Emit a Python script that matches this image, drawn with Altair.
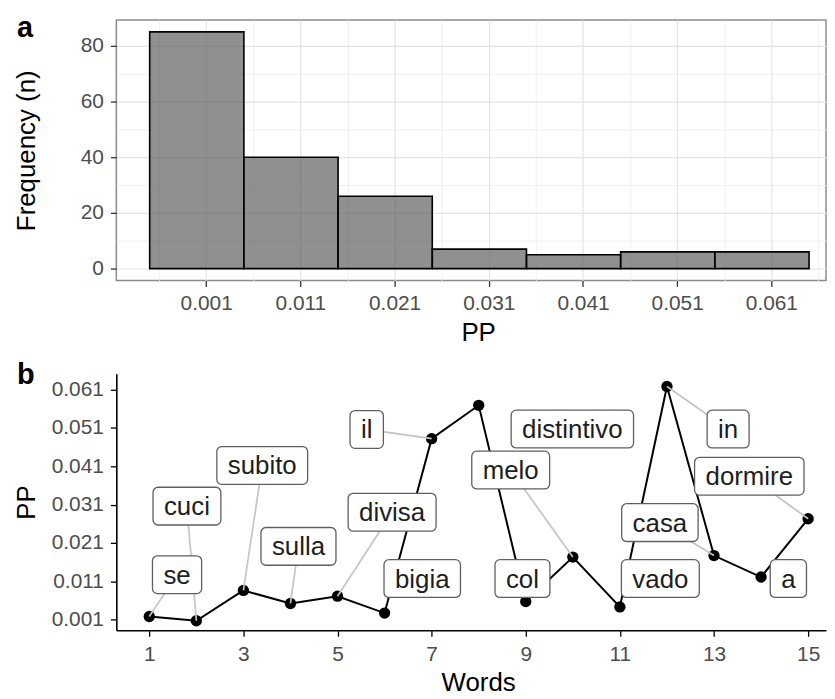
import altair as alt
import pandas as pd

# ---------------- panel a : histogram of PP ----------------
bin_edges = [-0.005, 0.005, 0.015, 0.025, 0.035, 0.045, 0.055, 0.065]
counts = [85, 40, 26, 7, 5, 6, 6]
pp_ticks = [0.001, 0.011, 0.021, 0.031, 0.041, 0.051, 0.061]
pp_minor = [-0.004, 0.006, 0.016, 0.026, 0.036, 0.046, 0.056, 0.066]
freq_ticks = [0, 20, 40, 60, 80]
freq_minor = [10, 30, 50, 70]

# ---------------- panel b : PP per word ----------------
words = ["se", "cuci", "subito", "sulla", "divisa", "bigia", "il", "distintivo",
         "col", "melo", "vado", "in", "casa", "a", "dormire"]
positions = list(range(1, 16))
pp_values = [0.0018, 0.0007, 0.0086, 0.0052, 0.0071, 0.0027, 0.0482, 0.0569,
             0.0057, 0.0173, 0.0043, 0.0618, 0.0177, 0.0121, 0.0273]
label_x = [1.59, 1.80, 3.40, 4.17, 6.16, 6.80, 5.62, 9.99,
           8.93, 8.68, 11.86, 13.30, 11.85, 14.58, 13.75]
label_y = [0.0127, 0.0306, 0.0412, 0.0201, 0.0290, 0.0117, 0.0506, 0.0507,
           0.0117, 0.0400, 0.0117, 0.0507, 0.0263, 0.0117, 0.0384]
has_leader = [True, True, True, True, True, False, True, False,
              False, True, False, True, True, False, True]
word_ticks = [1, 3, 5, 7, 9, 11, 13, 15]
panel_letters = ["a", "b"]

FONT = "Liberation Sans"
LABEL_SIZE = 26
LABEL_PAD = 11
ARIAL = {"a": .556, "b": .556, "c": .5, "d": .556, "e": .556, "g": .556, "i": .222,
         "l": .222, "m": .833, "n": .556, "o": .556, "r": .333, "s": .5, "t": .278,
         "u": .556, "v": .5}


def box_width(w):
    return sum(ARIAL.get(ch, .556) for ch in w) * LABEL_SIZE + 2 * LABEL_PAD


W = 714
TICK_GREY = "#4d4d4d"
TICK_FS = 21

# ---------- panel a ----------
hist_df = pd.DataFrame({"left": bin_edges[:-1], "right": bin_edges[1:], "n": counts})
xs_a = alt.Scale(domain=[-0.00854, 0.0668], nice=False, zero=False)
ys_a = alt.Scale(domain=[-4.25, 89.25], nice=False, zero=False)

minor_grid = alt.Chart(hist_df).mark_rect(opacity=0).encode(
    x=alt.X("left:Q", scale=xs_a,
            axis=alt.Axis(orient="top", values=pp_minor, labels=False, ticks=False,
                          domain=False, grid=True, gridColor="#eeeeee", gridWidth=0.9,
                          title=None)),
    x2="right:Q",
    y=alt.Y("n:Q", scale=ys_a,
            axis=alt.Axis(orient="right", values=freq_minor, labels=False, ticks=False,
                          domain=False, grid=True, gridColor="#eeeeee", gridWidth=0.9,
                          title=None)),
    y2=alt.datum(0),
)

bars = alt.Chart(hist_df).mark_rect(
    fill="#555555", fillOpacity=0.65, stroke="black", strokeWidth=1.6
).encode(
    x=alt.X("left:Q", scale=xs_a,
            axis=alt.Axis(orient="bottom", values=pp_ticks, format=".3f", title="PP",
                          grid=True, gridColor="#e4e4e4", gridWidth=1.2,
                          domain=False, ticks=True, tickSize=6, tickColor="#333333",
                          tickWidth=1.3, labelFont=FONT, labelFontSize=TICK_FS,
                          labelColor=TICK_GREY, labelPadding=6,
                          titleFont=FONT, titleFontSize=26, titleFontWeight="normal",
                          titleColor="black", titleX=364, titleY=60,
                          titleBaseline="alphabetic")),
    x2="right:Q",
    y=alt.Y("n:Q", scale=ys_a,
            axis=alt.Axis(orient="left", values=freq_ticks, format="d",
                          title="Frequency (n)",
                          grid=True, gridColor="#e4e4e4", gridWidth=1.2,
                          domain=False, ticks=True, tickSize=6, tickColor="#333333",
                          tickWidth=1.3, labelFont=FONT, labelFontSize=TICK_FS,
                          labelColor=TICK_GREY, labelPadding=7,
                          titleFont=FONT, titleFontSize=26, titleFontWeight="normal",
                          titleColor="black", titleX=-82, titleBaseline="alphabetic")),
    y2=alt.datum(0),
)

letter_a = alt.Chart(pd.DataFrame({"t": [panel_letters[0]]})).mark_text(
    font=FONT, fontSize=29, fontWeight="bold", align="left", baseline="alphabetic",
    color="black"
).encode(x=alt.value(-100), y=alt.value(17), text="t:N")

panel_a = alt.layer(minor_grid, bars, letter_a).resolve_axis(
    x="independent", y="independent"
).properties(
    width=W, height=262,
    view=alt.ViewBackground(stroke="#8c8c8c", strokeWidth=1.5)
)

# ---------- panel b ----------
df = pd.DataFrame({
    "pos": positions, "pp": pp_values, "word": words,
    "lx": label_x, "ly": label_y, "leader": has_leader,
})
df["bw"] = [box_width(w) for w in words]

xs_b = alt.Scale(domain=[0.3, 15.38], nice=False, zero=False)
ys_b = alt.Scale(domain=[-0.0018, 0.0651], nice=False, zero=False)

x_axis_b = alt.Axis(values=word_ticks, format="d", title="Words", grid=False,
                    domain=True, domainColor="black", domainWidth=1.6,
                    ticks=True, tickSize=6, tickColor="black", tickWidth=1.3,
                    labelFont=FONT, labelFontSize=TICK_FS, labelColor=TICK_GREY,
                    labelPadding=7, titleFont=FONT, titleFontSize=26,
                    titleFontWeight="normal", titleColor="black",
                    titleX=364, titleY=61, titleBaseline="alphabetic")
y_axis_b = alt.Axis(values=pp_ticks, format=".3f", title="PP", grid=False,
                    domain=True, domainColor="black", domainWidth=1.6,
                    ticks=True, tickSize=6, tickColor="black", tickWidth=1.3,
                    labelFont=FONT, labelFontSize=TICK_FS, labelColor=TICK_GREY,
                    labelPadding=7, titleFont=FONT, titleFontSize=26,
                    titleFontWeight="normal", titleColor="black",
                    titleX=-82, titleBaseline="alphabetic")

base = alt.Chart(df)

line = base.mark_line(color="black", strokeWidth=2).encode(
    x=alt.X("pos:Q", scale=xs_b, axis=x_axis_b),
    y=alt.Y("pp:Q", scale=ys_b, axis=y_axis_b),
)
points = base.mark_circle(color="black", size=130, opacity=1).encode(
    x=alt.X("pos:Q", scale=xs_b), y=alt.Y("pp:Q", scale=ys_b)
)
leaders = base.transform_filter("datum.leader").mark_rule(
    color="#c4c4c4", strokeWidth=1.7
).encode(
    x=alt.X("lx:Q", scale=xs_b), y=alt.Y("ly:Q", scale=ys_b),
    x2="pos:Q", y2="pp:Q",
)
boxes = base.mark_rect(
    fill="white", stroke="#5f5f5f", strokeWidth=1.3, cornerRadius=5,
    height=38, width=alt.ExprRef(expr="datum.bw")
).encode(x=alt.X("lx:Q", scale=xs_b), y=alt.Y("ly:Q", scale=ys_b))
texts = base.mark_text(
    font=FONT, fontSize=LABEL_SIZE, color="#1e1e1e", baseline="middle", dy=1
).encode(x=alt.X("lx:Q", scale=xs_b), y=alt.Y("ly:Q", scale=ys_b), text="word:N")

letter_b = alt.Chart(pd.DataFrame({"t": [panel_letters[1]]})).mark_text(
    font=FONT, fontSize=29, fontWeight="bold", align="left", baseline="alphabetic",
    color="black"
).encode(x=alt.value(-100), y=alt.value(10), text="t:N")

panel_b = alt.layer(line, points, leaders, boxes, texts, letter_b).properties(
    width=W, height=258,
    view=alt.ViewBackground(stroke="transparent")
)

chart = alt.vconcat(panel_a, panel_b, spacing=14).properties(
    padding={"left": 5, "top": 3, "right": 0, "bottom": 0},
    background="white",
)

chart.save("out.html", embed_options={"renderer": "svg", "actions": False})
